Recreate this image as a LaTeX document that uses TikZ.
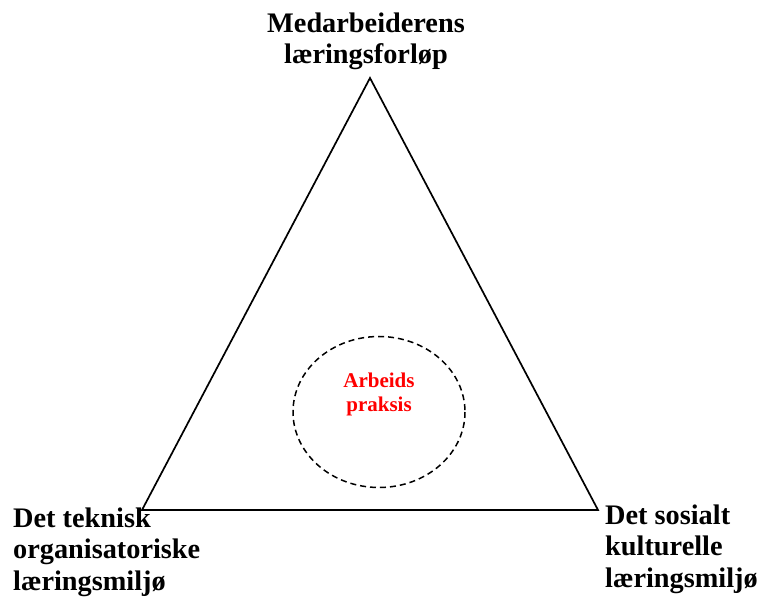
\documentclass[tikz,border=0pt]{standalone}
\usepackage{fontspec}
\setmainfont{Liberation Serif}
\begin{document}
\begin{tikzpicture}[x=1pt,y=-1pt,
  label/.style={inner sep=0pt,font=\bfseries\fontsize{28.3pt}{31.5pt}\selectfont},
  centre/.style={inner sep=0pt,text=red,align=center,font=\bfseries\fontsize{21pt}{24pt}\selectfont},
  edge/.style={line width=1.7pt},
  ring/.style={line width=1.5pt,dash pattern=on 6pt off 4pt}]
\useasboundingbox (0,0) rectangle (763,601);
\coordinate (top) at (370,78);
\coordinate (bl) at (142,510);
\coordinate (br) at (598,510);
\draw[edge,line join=miter] (top) -- (bl) -- (br) -- cycle;
\draw[ring] (379,412) ellipse [x radius=86, y radius=75.5];
\node[centre,anchor=base] (praksis) at (379,411) {Arbeids\\praksis};
\node[label,align=center,anchor=base] (med) at (366,64) {Medarbeiderens\\læringsforløp};
\node[label,align=left,anchor=base west] (tek) at (13,590) {Det teknisk\\organisatoriske\\læringsmiljø};
\node[label,align=left,anchor=base west] (sos) at (605,587) {Det sosialt\\kulturelle\\læringsmiljø};
\end{tikzpicture}
\end{document}
